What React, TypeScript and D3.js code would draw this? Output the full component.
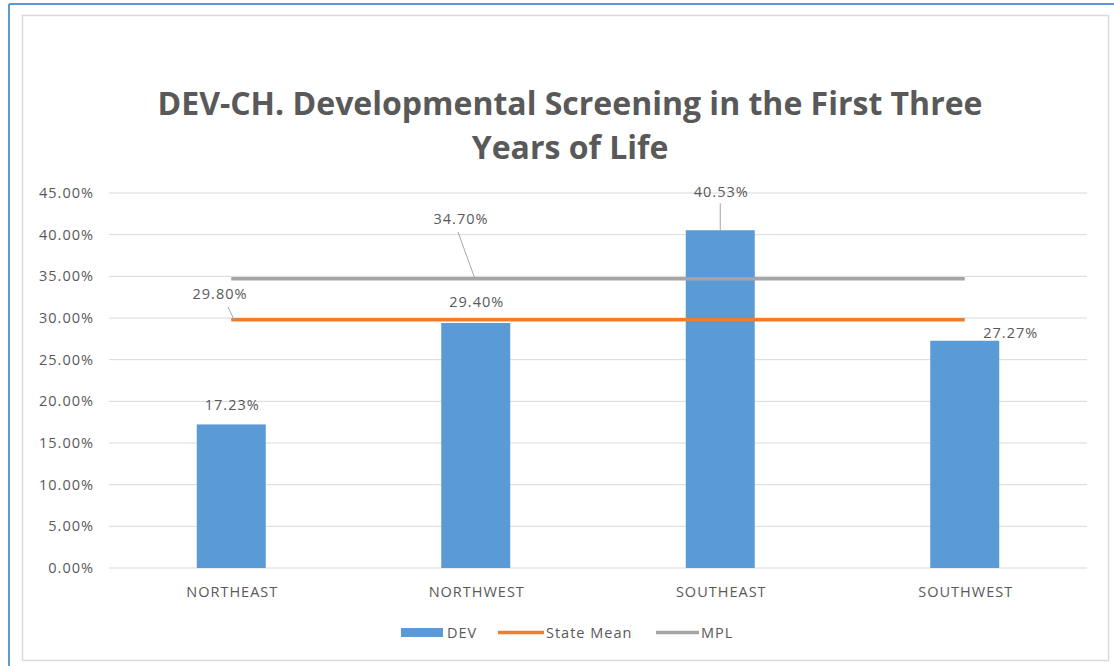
import React from 'react';
import * as d3 from 'd3';

const regions = ['NORTHEAST', 'NORTHWEST', 'SOUTHEAST', 'SOUTHWEST'];
const devValues = [17.23, 29.4, 40.53, 27.27];
const stateMean = [29.8, 29.8, 29.8, 29.8];
const mpl = [34.7, 34.7, 34.7, 34.7];
const yTicks = [0, 5, 10, 15, 20, 25, 30, 35, 40, 45];
const titleLines = ['DEV-CH. Developmental Screening in the First Three', 'Years of Life'];

const W = 1114;
const H = 666;
const FONT = '"Open Sans", "DejaVu Sans", sans-serif';
const TEXT = '#595959';

const App = () => {
  const x = d3.scaleBand<string>().domain(regions).range([109, 1087]);
  const y = d3.scaleLinear().domain([0, 45]).range([568, 193]);
  const barW = 69;
  const cx = (r: string) => (x(r) as number) + x.bandwidth() / 2;

  const line = d3
    .line<number>()
    .x((_, i) => cx(regions[i]))
    .y((d) => y(d));

  const fmt = (v: number) => v.toFixed(2) + '%';

  // small text style shared by axes, labels and legend
  const small = { fontFamily: FONT, fontSize: 14.5, letterSpacing: 1, fill: TEXT };

  // manual label nudges, like the hand-moved labels in the original
  const devLabelOffset = [
    { dx: 0, dy: -14 },
    { dx: 0, dy: -16 },
    { dx: 0, dy: -33, leader: true },
    { dx: 45, dy: -3 },
  ];

  return (
    <svg width={W} height={H} style={{ position: 'absolute', left: 0, top: 0 }}>
      <rect x={0} y={0} width={W} height={H} fill="#fff" />
      <line x1={9} x2={W} y1={4} y2={4} stroke="#5b9bd5" strokeWidth={2} />
      <line x1={9} x2={9} y1={4} y2={H} stroke="#5b9bd5" strokeWidth={2} />
      <rect x={22.5} y={15.5} width={1086} height={645} fill="#fff" stroke="#d9d9d9" strokeWidth={1.5} />

      {titleLines.map((t, i) => (
        <text
          key={t}
          x={570}
          y={115 + i * 44}
          textAnchor="middle"
          fontFamily={FONT}
          fontWeight="bold"
          fontSize={32}
          fill={TEXT}
        >
          {t}
        </text>
      ))}

      {yTicks.map((t) => (
        <g key={t}>
          <line x1={109} x2={1087} y1={y(t)} y2={y(t)} stroke="#d9d9d9" strokeWidth={1} />
          <text x={94} y={y(t) + 5} textAnchor="end" {...small}>
            {t.toFixed(2) + '%'}
          </text>
        </g>
      ))}

      {regions.map((r, i) => (
        <rect key={r} x={cx(r) - barW / 2} y={y(devValues[i])} width={barW} height={y(0) - y(devValues[i])} fill="#5b9bd5" />
      ))}

      <path d={line(mpl) || ''} fill="none" stroke="#a5a5a5" strokeWidth={3.5} />
      <path d={line(stateMean) || ''} fill="none" stroke="#ed7d31" strokeWidth={3.5} />

      {regions.map((r) => (
        <text key={r} x={cx(r) + 1} y={597} textAnchor="middle" {...small}>
          {r}
        </text>
      ))}

      {regions.map((r, i) => {
        const o = devLabelOffset[i];
        const lx = cx(r) + o.dx + 1;
        const ly = y(devValues[i]) + o.dy;
        return (
          <g key={r}>
            {o.leader && <line x1={cx(r)} x2={cx(r)} y1={ly + 6} y2={y(devValues[i])} stroke="#a6a6a6" strokeWidth={1} />}
            <text x={lx} y={ly} textAnchor="middle" {...small}>
              {fmt(devValues[i])}
            </text>
          </g>
        );
      })}

      {/* State Mean label with leader */}
      <line x1={228} x2={234} y1={307} y2={y(stateMean[0])} stroke="#a6a6a6" strokeWidth={1} />
      <text x={220} y={299} textAnchor="middle" {...small}>
        {fmt(stateMean[0])}
      </text>

      {/* MPL label with leader */}
      <line x1={458} x2={475} y1={232} y2={y(mpl[1])} stroke="#a6a6a6" strokeWidth={1} />
      <text x={461} y={224} textAnchor="middle" {...small}>
        {fmt(mpl[1])}
      </text>

      {/* legend */}
      <g {...small}>
        <rect x={401} y={628} width={42} height={9} fill="#5b9bd5" />
        <text x={447} y={638}>DEV</text>
        <line x1={498} x2={544} y1={632.5} y2={632.5} stroke="#ed7d31" strokeWidth={3.5} />
        <text x={546} y={638}>State Mean</text>
        <line x1={656} x2={699} y1={632.5} y2={632.5} stroke="#a5a5a5" strokeWidth={3.5} />
        <text x={701} y={638}>MPL</text>
      </g>
    </svg>
  );
};

export default App;
